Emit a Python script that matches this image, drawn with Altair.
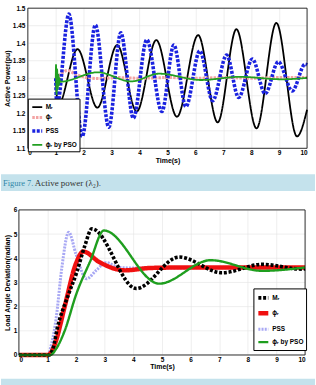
import altair as alt
import pandas as pd

SERIES = ["Mᵣ", "ϕᵣ", "PSS", "ϕᵣ by PSO"]

# ---- Figure 7: active power (pu) vs time (s) ----
p_mr_t = [1.0, 1.08, 1.78, 2.49, 3.2, 3.9, 4.6, 5.34, 6.1, 6.8, 7.47, 8.19, 8.9, 9.64, 10.0]
p_mr_v = [1.30, 1.222, 1.383, 1.216, 1.395, 1.205, 1.409, 1.19, 1.423, 1.174, 1.44, 1.157, 1.458, 1.134, 1.21]

p_phi_t = [1.0, 1.15, 1.42, 1.75, 2.1, 2.6, 3.2, 4.0, 5.0, 6.0, 7.0, 8.0, 9.0, 10.0]
p_phi_v = [1.30, 1.31, 1.322, 1.31, 1.302, 1.299, 1.302, 1.300, 1.302, 1.300, 1.302, 1.300, 1.302, 1.302]

p_pss_t = [1.0, 1.04, 1.47, 1.95, 2.42, 2.9, 3.33, 3.78, 4.26, 4.8, 5.23, 5.66, 6.16, 6.62,
           7.12, 7.55, 8.04, 8.5, 8.97, 9.47, 9.93, 10.0]
p_pss_v = [1.30, 1.22, 1.483, 1.134, 1.452, 1.16, 1.43, 1.186, 1.41, 1.205, 1.395, 1.219, 1.378, 1.236,
           1.366, 1.245, 1.355, 1.256, 1.347, 1.264, 1.34, 1.338]

p_pso_t = [1.0, 1.01, 1.03, 1.05, 1.07, 1.09, 1.11, 1.13, 1.16, 2.5, 3.7, 4.7, 6.2, 7.6, 9.1, 10.0]
p_pso_v = [1.30, 1.338, 1.255, 1.325, 1.27, 1.31, 1.28, 1.30, 1.29, 1.317, 1.291, 1.313, 1.295, 1.304, 1.297, 1.301]

power_ticks = [1.1, 1.15, 1.2, 1.25, 1.3, 1.35, 1.4, 1.45, 1.5]

# ---- Figure 8: load angle deviation (radian) vs time (s) ----
a_mr_t = [0.0, 1.05, 1.2, 1.34, 1.7, 2.03, 2.3, 2.55, 4.1, 5.6, 7.1, 8.5, 9.9, 10.0]
a_mr_v = [0.0, 0.0, 0.3, 1.1, 2.4, 3.45, 4.5, 5.22, 2.75, 4.05, 3.4, 3.75, 3.55, 3.56]

a_phi_t = [0.0, 1.0, 1.15, 1.3, 1.6, 2.0, 2.25, 2.8, 3.7, 4.6, 6.0, 10.0]
a_phi_v = [0.0, 0.0, 0.15, 0.6, 2.0, 3.8, 4.28, 3.85, 3.5, 3.6, 3.62, 3.62]

a_pss_t = [0.0, 1.0, 1.15, 1.3, 1.5, 1.74, 2.0, 2.36, 2.7, 3.05, 3.5, 4.0, 10.0]
a_pss_v = [0.0, 0.0, 0.5, 1.5, 3.6, 5.08, 4.15, 3.15, 3.5, 3.82, 3.62, 3.6, 3.62]

a_pso_t = [0.0, 1.1, 1.3, 1.6, 2.0, 2.5, 2.97, 4.9, 6.7, 8.5, 10.0]
a_pso_v = [0.0, 0.0, 0.25, 1.0, 2.5, 3.9, 5.15, 2.95, 3.92, 3.48, 3.62]

angle_ticks = [0, 1, 2, 3, 4, 5, 6]
time_ticks = list(range(11))


def frame(parts):
    # rows are listed in drawing order: later series are painted on top
    rows = []
    for name, ts, vs in parts:
        for i, (t, v) in enumerate(zip(ts, vs)):
            rows.append({"t": t, "v": v, "series": name, "i": i})
    return pd.DataFrame(rows)


power_df = frame([
    (SERIES[0], p_mr_t, p_mr_v),
    (SERIES[1], p_phi_t, p_phi_v),
    (SERIES[2], p_pss_t, p_pss_v),
    (SERIES[3], p_pso_t, p_pso_v),
])
angle_df = frame([
    (SERIES[2], a_pss_t, a_pss_v),
    (SERIES[1], a_phi_t, a_phi_v),
    (SERIES[0], a_mr_t, a_mr_v),
    (SERIES[3], a_pso_t, a_pso_v),
])


def legend(x, y, row_pad):
    return alt.Legend(
        title=None, orient="none", legendX=x, legendY=y,
        symbolType="stroke", symbolSize=100, labelOffset=1.5,
        labelFont="Liberation Sans", labelFontWeight="bold", labelFontSize=6.5,
        labelColor="black", padding=2.5, rowPadding=row_pad,
        fillColor="white", strokeColor="black",
    )


def panel(df, colors, dashes, widths, ydom, yticks, yfmt, ytitle, x0, x1, h,
          lx, ly, row_pad, title_pad, label_pad, top, bottom):
    # the plot area runs from x0 to x1 inside the panel; the y axis sits at x0
    leg = legend(lx, ly, row_pad)
    x_enc = alt.X("t:Q", scale=alt.Scale(domain=[0, 10], nice=False, range=[x0, x1]),
                  axis=alt.Axis(values=time_ticks, format="d", title="Time(s)",
                                labelPadding=1.5, titlePadding=0))
    y_scale = alt.Scale(domain=ydom, nice=False, zero=False)
    y_axis = alt.Axis(values=yticks, format=yfmt, title=ytitle, offset=-x0, grid=False,
                      labelPadding=label_pad, titlePadding=title_pad)

    grid = alt.Chart(pd.DataFrame({"v": yticks})).mark_rule(
        color="#e2e2e2", strokeWidth=0.6).encode(
        y=alt.Y("v:Q", scale=y_scale, axis=y_axis), x=alt.value(x0), x2=alt.value(x1))
    lines = alt.Chart(df).mark_line(interpolate="monotone").encode(
        x=x_enc,
        y=alt.Y("v:Q", scale=y_scale, axis=y_axis),
        color=alt.Color("series:N", scale=alt.Scale(domain=SERIES, range=colors), legend=leg),
        strokeDash=alt.StrokeDash("series:N", scale=alt.Scale(domain=SERIES, range=dashes), legend=leg),
        strokeWidth=alt.StrokeWidth("series:N",
                                    scale=alt.Scale(type="ordinal", domain=SERIES, range=widths),
                                    legend=leg),
        order="i:Q",
    )
    one = alt.Chart(pd.DataFrame({"k": [0]}))
    box = one.mark_rect(fillOpacity=0, stroke="black", strokeWidth=0.8).encode(
        x=alt.value(x0), x2=alt.value(x1), y=alt.value(0), y2=alt.value(h))
    # invisible rule fixing the panel's outer top and bottom edges
    edge = one.mark_rule(opacity=0).encode(
        x=alt.value(x0), y=alt.value(-top), y2=alt.value(h + bottom))
    return alt.layer(grid, lines, box, edge).properties(
        width=x1, height=h, view=alt.ViewBackground(stroke="transparent"))


power = panel(
    power_df,
    colors=["#000000", "#f3a3a3", "#1a22e0", "#22a022"],
    dashes=[[1, 0], [2.5, 1.2], [3, 1.5], [1, 0]],
    widths=[1.8, 3, 3.6, 1.8],
    ydom=[1.1, 1.5], yticks=power_ticks, yfmt=".2~f", ytitle="Active Power(pu)",
    x0=27, x1=308, h=141, lx=27, ly=91, row_pad=-3.9,
    title_pad=2, label_pad=3, top=6, bottom=24,
)

angle = panel(
    angle_df,
    colors=["#000000", "#f01010", "#a8a8f4", "#1e9e1e"],
    dashes=[[3, 1.8], [1, 0], [2, 1.2], [1, 0]],
    widths=[3.6, 4.5, 3, 2.4],
    ydom=[0, 6], yticks=angle_ticks, yfmt="d", ytitle="Load Angle Deviation(radian)",
    x0=18, x1=306, h=146, lx=254, ly=79, row_pad=-4.8,
    title_pad=3, label_pad=2, top=17, bottom=22,
)


def caption(number, text, height, baseline):
    base = alt.Chart(pd.DataFrame({"k": [0]}))
    band = base.mark_rect(color="#c4e2ec").encode(
        x=alt.value(0), x2=alt.value(316), y=alt.value(0), y2=alt.value(height))
    label = base.mark_text(align="left", baseline="alphabetic", font="Liberation Serif",
                           fontSize=8.5, color="#2f86a8", clip=True).encode(
        x=alt.value(2), y=alt.value(baseline), text=alt.value(number))
    body = base.mark_text(align="left", baseline="alphabetic", font="Liberation Serif",
                          fontSize=9, color="#333333", clip=True).encode(
        x=alt.value(34), y=alt.value(baseline), text=alt.value(text))
    return alt.layer(band, label, body).properties(
        width=316, height=height, view=alt.ViewBackground(stroke="transparent"))


cap7 = caption("Figure 7.", "Active power  (λ₂).", 17, 12)
cap8 = caption("Figure 8.", "Load angle deviation  (λ₁).", 12, 16)

chart = alt.vconcat(
    power, cap7, angle, cap8, spacing=0
).resolve_scale(
    color="independent", strokeDash="independent", strokeWidth="independent"
).resolve_legend(
    color="independent", strokeDash="independent", strokeWidth="independent"
).properties(
    padding=0
).configure_axis(
    labelFont="Liberation Sans", labelFontWeight="bold", labelFontSize=6.5, labelColor="black",
    titleFont="Liberation Sans", titleFontWeight="bold", titleFontSize=7, titleColor="black",
    gridColor="#e2e2e2", gridWidth=0.6, ticks=False, domain=False,
)

chart.save("out.html", embed_options={"renderer": "svg", "actions": False})
